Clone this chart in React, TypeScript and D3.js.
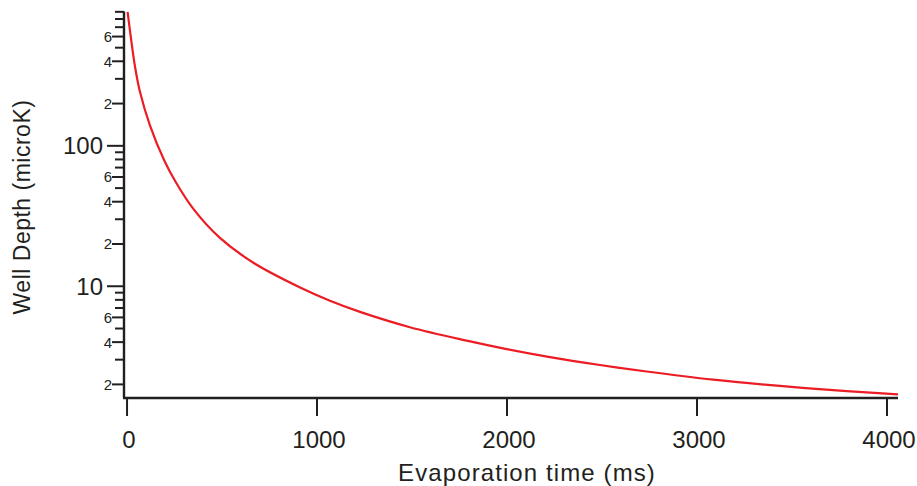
import React from "react";
import * as d3 from "d3";

// Evaporation time (ms) and trap depth (microK) along the evaporation ramp
const timeMs = [3, 42, 68, 121, 196, 253, 349, 489, 665, 911, 1068, 1226, 1489, 1788, 1998, 2226, 2489, 2735, 3086, 3437, 3788, 4059];
const depthMicroK = [900, 366, 243, 139.5, 78.6, 56.2, 35.6, 22.1, 14.7, 9.79, 7.88, 6.57, 5.11, 4.1, 3.57, 3.13, 2.75, 2.47, 2.16, 1.95, 1.79, 1.7];

const xTicks = [0, 1000, 2000, 3000, 4000];
const yMajorTicks = [10, 100];
const yMinorTicks = [2, 3, 4, 5, 6, 7, 8, 9, 20, 30, 40, 50, 60, 70, 80, 90, 200, 300, 400, 500, 600, 700, 800, 900];
const yMinorLabels = ["2", "4", "6"];

const W = 917;
const H = 486;
const FONT = "'Liberation Sans', Arial, Helvetica, sans-serif";
const INK = "#231f20";
const RED = "#ec1c24";

export default function App() {
  const x = d3.scaleLinear().domain([-16, 4058]).range([124, 898]);
  const y = d3.scaleLog().domain([1.6, 905]).range([398, 11.5]);

  const [x0, x1] = x.range();
  const [yBottom, yTop] = y.range();

  const line = d3
    .line<number>()
    .x((_, i) => x(timeMs[i]))
    .y((d) => y(d))
    .curve(d3.curveCatmullRom.alpha(0.5));

  const minorLabel = (v: number) => {
    const lead = String(v)[0];
    return yMinorLabels.includes(lead) ? lead : null;
  };

  return (
    <svg
      width={W}
      height={H}
      viewBox={`0 0 ${W} ${H}`}
      style={{ position: "absolute", left: 0, top: 0, background: "#fff" }}
    >
      <defs>
        <clipPath id="plot-area">
          <rect x={x0} y={yTop} width={x1 - x0} height={yBottom - yTop} />
        </clipPath>
      </defs>

      {/* curve */}
      <path
        d={line(depthMicroK) ?? ""}
        fill="none"
        stroke={RED}
        strokeWidth={2.2}
        clipPath="url(#plot-area)"
      />

      {/* y axis */}
      <line x1={x0} x2={x0} y1={yTop} y2={yBottom} stroke={INK} strokeWidth={2.4} />
      {yMajorTicks.map((v) => (
        <g key={`M${v}`}>
          <line x1={x0 - 17} x2={x0} y1={y(v)} y2={y(v)} stroke={INK} strokeWidth={2} />
          <text
            x={x0 - 21}
            y={y(v)}
            dy="0.36em"
            textAnchor="end"
            fontFamily={FONT}
            fontSize={24}
            fill={INK}
          >
            {v}
          </text>
        </g>
      ))}
      {yMinorTicks.map((v) => {
        const lab = minorLabel(v);
        return (
          <g key={`m${v}`}>
            <line
              x1={x0 - (lab ? 12 : 9)}
              x2={x0}
              y1={y(v)}
              y2={y(v)}
              stroke={INK}
              strokeWidth={2}
            />
            {lab && (
              <text
                x={x0 - 12}
                y={y(v)}
                dy="0.36em"
                textAnchor="end"
                fontFamily={FONT}
                fontSize={15}
                fill={INK}
              >
                {lab}
              </text>
            )}
          </g>
        );
      })}

      {/* x axis */}
      <line x1={x0 - 1} x2={x1} y1={yBottom} y2={yBottom} stroke={INK} strokeWidth={2.4} />
      {xTicks.map((v) => (
        <g key={`x${v}`}>
          <line x1={x(v)} x2={x(v)} y1={yBottom} y2={yBottom + 18} stroke={INK} strokeWidth={2} />
          <text
            x={x(v) + 2}
            y={448}
            textAnchor="middle"
            fontFamily={FONT}
            fontSize={24}
            fill={INK}
          >
            {v}
          </text>
        </g>
      ))}

      {/* axis titles */}
      <text
        x={527}
        y={481}
        textAnchor="middle"
        fontFamily={FONT}
        fontSize={24}
        letterSpacing={1.1}
        fill={INK}
      >
        Evaporation time (ms)
      </text>
      <text
        transform={`translate(30, 207) rotate(-90)`}
        textAnchor="middle"
        fontFamily={FONT}
        fontSize={23}
        letterSpacing={0.5}
        fill={INK}
      >
        Well Depth (microK)
      </text>
    </svg>
  );
}
